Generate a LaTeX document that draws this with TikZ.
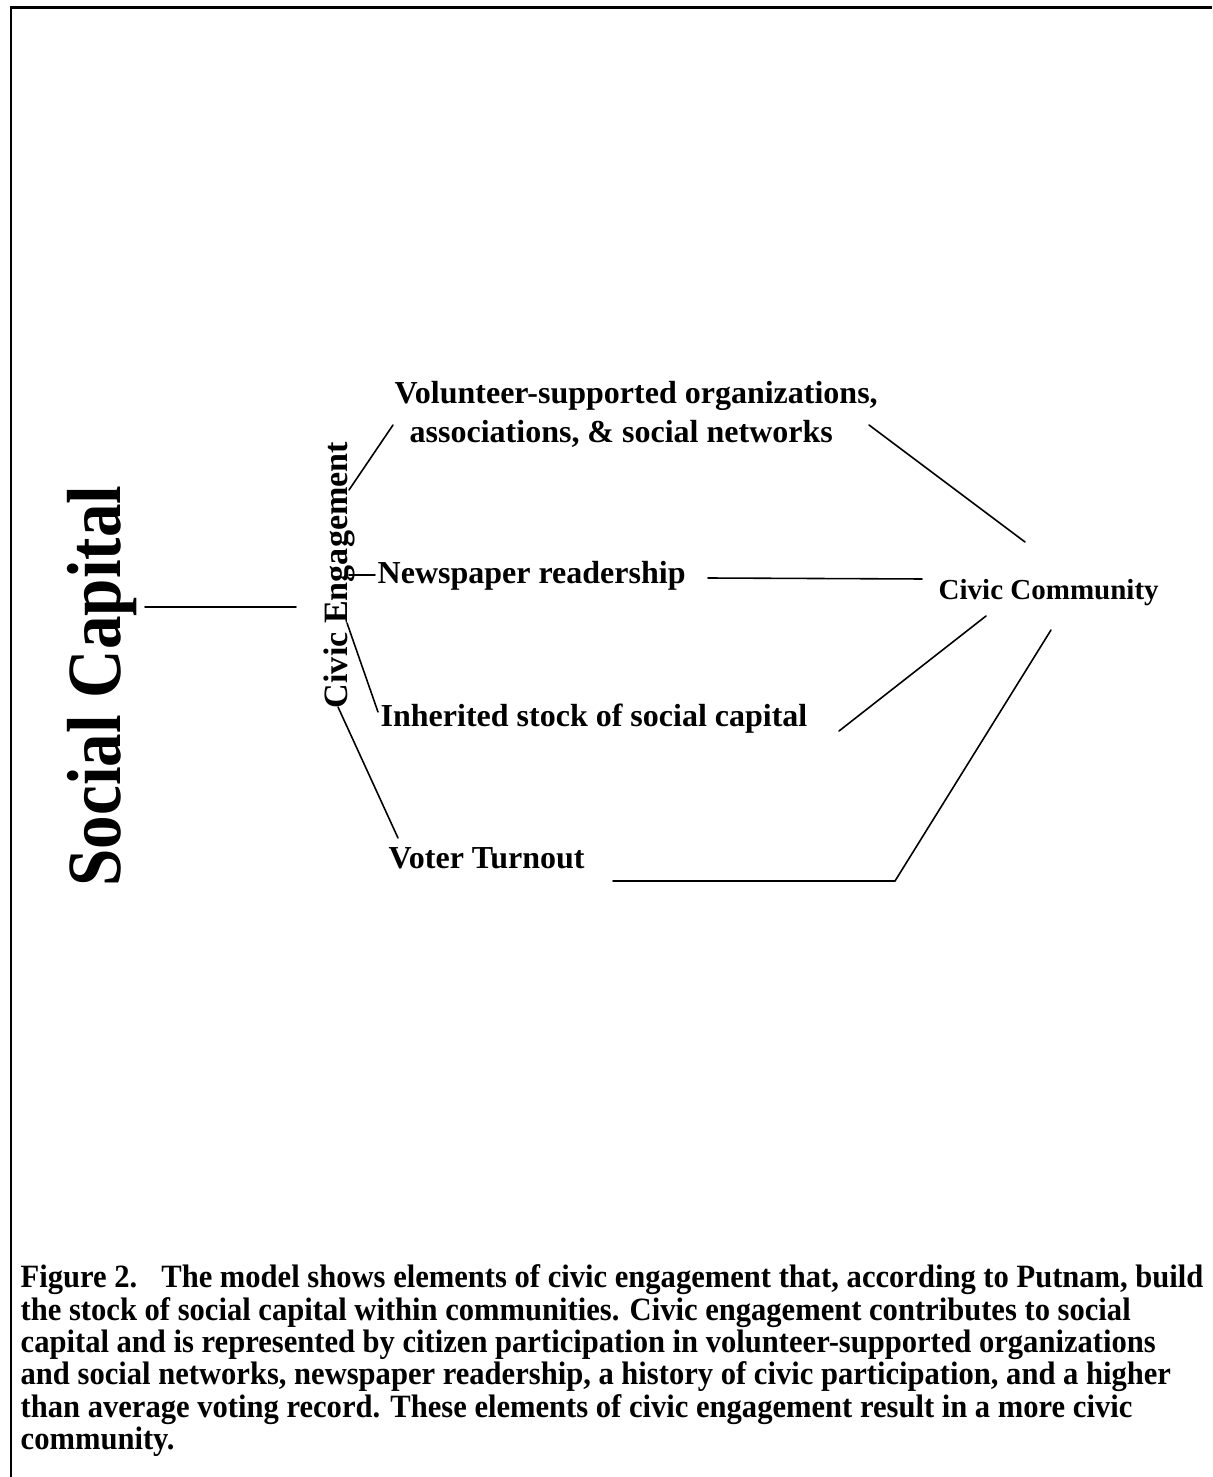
\documentclass[tikz,border=0pt]{standalone}
\usepackage{fontspec}
\setmainfont{Liberation Serif}
\newfontfamily\condfont[FakeStretch=0.875]{Liberation Serif}
\newfontfamily\capfont[FakeStretch=0.94]{Liberation Serif}
\begin{document}
\begin{tikzpicture}[x=0.01cm,y=-0.01cm,
  lab/.style={font=\fontsize{9.1}{11.1}\selectfont\bfseries, inner sep=0pt, anchor=base west},
  conn/.style={line width=0.45pt, line cap=round}]
\useasboundingbox (0,0) rectangle (1212,1477);
\fill[white] (0,0) rectangle (1212,1477);
% frame
\draw[line width=0.85pt] (1212,8) -- (11,8) -- (11,1477);

% rotated titles
\node[rotate=90, anchor=base, inner sep=0pt, font=\condfont\fontsize{21.8}{24}\selectfont\bfseries] (sc) at (120,686) {Social Capital};
\node[rotate=90, anchor=base, inner sep=0pt, font=\fontsize{9.7}{11}\selectfont\bfseries] (ce) at (347,575) {Civic Engagement};

% element labels
\node[lab, anchor=north west, align=left] (vol) at (394,381) {Volunteer-supported organizations,\\\hspace*{0.15cm}associations, \& social networks};
\node[lab] (news) at (377,584) {Newspaper readership};
\node[lab] (inh) at (380,726) {Inherited stock of social capital};
\node[lab] (vot) at (388,868) {Voter Turnout};
\node[lab, font=\fontsize{8.25}{10}\selectfont\bfseries] (cc) at (938,600) {Civic Community};

% caption
\node[anchor=north west, inner sep=0pt, align=left, font=\capfont\fontsize{9.25}{9.22}\selectfont\bfseries] (cap) at (20,1264) {Figure 2.\hspace{0.24cm}The model shows elements of civic engagement that, according to Putnam, build\\the stock of social capital within communities. Civic engagement contributes to social\\capital and is represented by citizen participation in volunteer-supported organizations\\and social networks, newspaper readership, a history of civic participation, and a higher\\than average voting record. These elements of civic engagement result in a more civic\\community.};

% connector end points
\coordinate (scR) at (145,607);
\coordinate (ceL) at (296,607);
\coordinate (ce1) at (349,490);
\coordinate (vol1) at (393,425);
\coordinate (ce2) at (349,575);
\coordinate (news1) at (375,575);
\coordinate (ce3) at (347,623);
\coordinate (inh1) at (378,712);
\coordinate (ce4) at (338,707);
\coordinate (vot1) at (398,838);
\coordinate (vol2) at (869,425);
\coordinate (cc1) at (1025,542);
\coordinate (news2) at (708,578);
\coordinate (cc2) at (922,579);
\coordinate (cc3) at (986,616);
\coordinate (inh2) at (839,731);
\coordinate (vot2) at (613,881);
\coordinate (bend) at (895,881);
\coordinate (cc4) at (1051,630);

% connectors
\draw[conn] (scR) -- (ceL);
\draw[conn] (ce1) -- (vol1);
\draw[conn] (ce2) -- (news1);
\draw[conn] (ce3) -- (inh1);
\draw[conn] (ce4) -- (vot1);
\draw[conn] (vol2) -- (cc1);
\draw[conn] (news2) -- (cc2);
\draw[conn] (cc3) -- (inh2);
\draw[conn] (vot2) -- (bend) -- (cc4);
\end{tikzpicture}
\end{document}
